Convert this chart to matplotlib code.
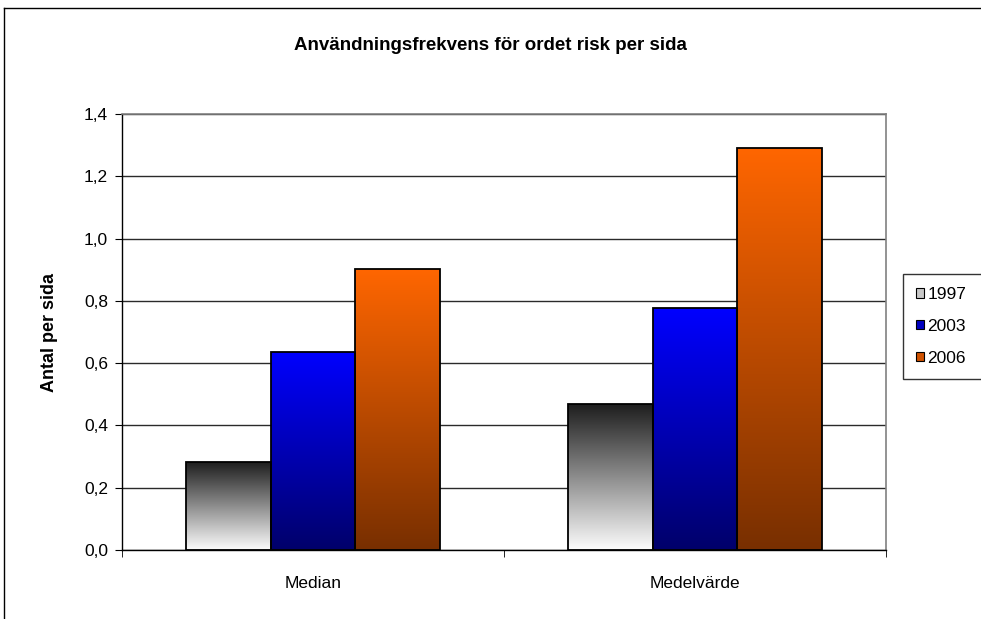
import numpy as np
import matplotlib
matplotlib.use('Agg')
import matplotlib.pyplot as plt
from matplotlib.patches import Patch
from matplotlib.lines import Line2D
from matplotlib.ticker import FuncFormatter, FixedLocator

plt.rcParams['font.family'] = ['Liberation Sans', 'DejaVu Sans']

categories = ['Median', 'Medelvärde']
years = ['1997', '2003', '2006']
values = {
    '1997': [0.283, 0.469],
    '2003': [0.636, 0.777],
    '2006': [0.902, 1.291],
}
# gradient colours, (top, bottom) of each bar
gradients = {
    '1997': ('#1c1c1c', '#fcfcfc'),
    '2003': ('#0000ff', '#00006a'),
    '2006': ('#ff6600', '#782f00'),
}
legend_colors = {'1997': '#c8c8c8', '2003': '#0000c0', '2006': '#d05200'}


def hex_rgb(c):
    c = c.lstrip('#')
    return np.array([int(c[i:i + 2], 16) / 255 for i in (0, 2, 4)])


def gradient_bar(ax, x, h, w, top, bottom):
    bar = ax.bar(x, h, w, facecolor='none', edgecolor='black', linewidth=1.3, zorder=3)[0]
    t = np.linspace(0, 1, 256).reshape(-1, 1, 1)
    img = hex_rgb(bottom) * (1 - t) + hex_rgb(top) * t
    im = ax.imshow(img, extent=[x - w / 2, x + w / 2, 0, h], origin='lower',
                   aspect='auto', interpolation='bilinear', zorder=2)
    im.set_clip_path(bar)


fig = plt.figure(figsize=(9.81, 6.19), dpi=100)
ax = fig.add_axes([122 / 981, 69 / 619, 764 / 981, 436 / 619])

width = 1 / 4.5
xpos = np.arange(len(categories))
for i, yr in enumerate(years):
    for j, v in enumerate(values[yr]):
        gradient_bar(ax, xpos[j] + (i - 1) * width, v, width, *gradients[yr])

ax.set_xlim(-0.5, len(categories) - 0.5)
ax.set_ylim(0, 1.4)
ax.set_yticks(np.arange(0, 1.41, 0.2))
ax.yaxis.set_major_formatter(FuncFormatter(lambda v, p: f'{v:.1f}'.replace('.', ',')))
ax.yaxis.grid(True, color='#2a2a2a', linewidth=1)
ax.set_axisbelow(True)

ax.set_xticks(xpos)
ax.set_xticklabels(categories)
ax.xaxis.set_minor_locator(FixedLocator([-0.5, 0.5, 1.5]))
ax.tick_params(axis='x', which='major', length=0, pad=19, labelsize=12.5)
ax.tick_params(axis='x', which='minor', length=5, direction='out', color='black')
ax.tick_params(axis='y', length=5, direction='out', labelsize=12.5, pad=5)

for s in ('top', 'right'):
    ax.spines[s].set_color('#808080')
    ax.spines[s].set_linewidth(1.2)
for s in ('left', 'bottom'):
    ax.spines[s].set_color('black')
    ax.spines[s].set_linewidth(1)

ax.set_ylabel('Antal per sida', fontsize=13, fontweight='bold', labelpad=19)
fig.text(0.5, 1 - 45 / 619, 'Användningsfrekvens för ordet risk per sida',
         ha='center', va='center', fontsize=13.5, fontweight='bold')

# legend box runs off the right edge of the figure
handles = [Patch(facecolor=legend_colors[yr], edgecolor='black', linewidth=0.8) for yr in years]
leg = fig.legend(handles, years, loc='upper left',
                 bbox_to_anchor=(903 / 981, 1 - 274 / 619, 0.12, 0), mode='expand',
                 fontsize=12.5, frameon=True, fancybox=False, edgecolor='black',
                 handlelength=0.45, handleheight=0.45, handletextpad=0.2,
                 labelspacing=0.97, borderpad=0.75, borderaxespad=0)
leg.get_frame().set_linewidth(1)

# chart area border
fig.add_artist(Line2D([4 / 981, 4 / 981], [0, 1 - 8 / 619], color='black', linewidth=1,
                      transform=fig.transFigure))
fig.add_artist(Line2D([4 / 981, 1], [1 - 8 / 619, 1 - 8 / 619], color='black', linewidth=1,
                      transform=fig.transFigure))

fig.savefig('out.png', dpi=100)
